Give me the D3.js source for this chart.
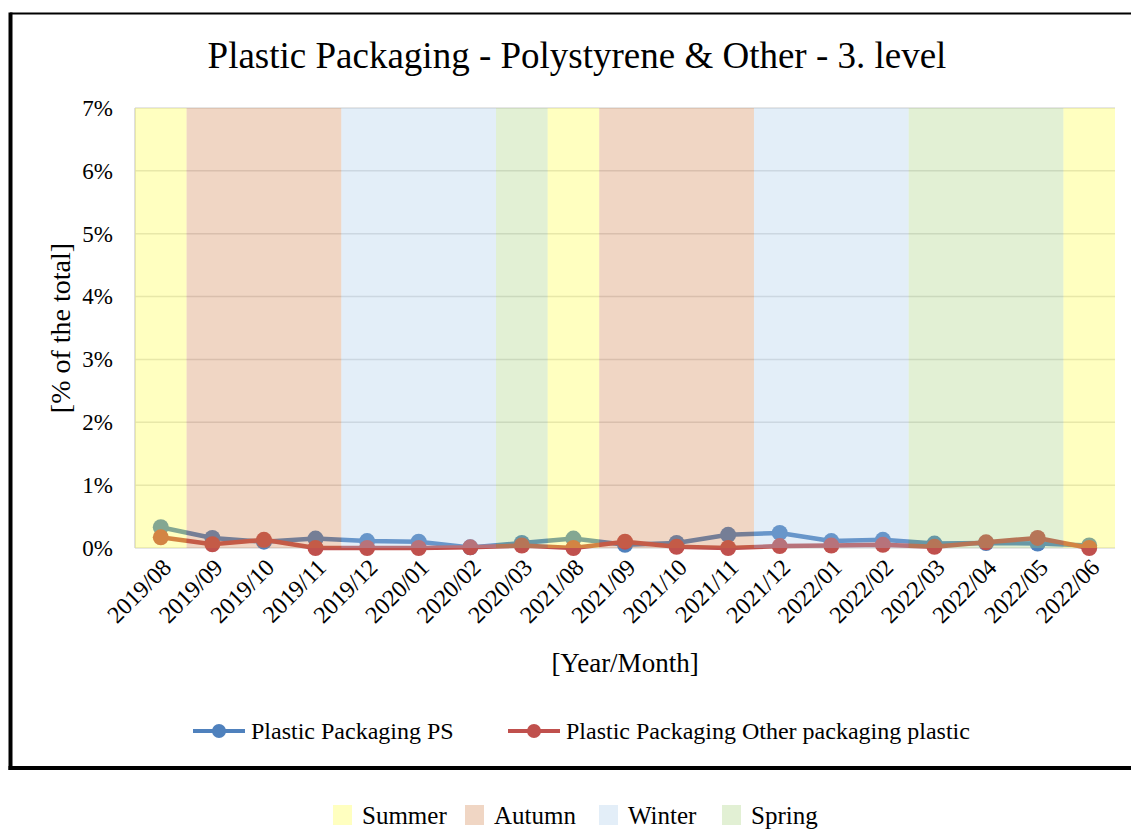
<!DOCTYPE html>
<html>
<head>
<meta charset="utf-8">
<script src="https://cdn.jsdelivr.net/npm/d3@7"></script>
<style>
  html, body { margin: 0; padding: 0; background: #fff; }
  svg { display: block; font-family: "Liberation Serif", "Times New Roman", serif; }
</style>
</head>
<body>
<svg id="chart" width="1131" height="829"></svg>
<script>
// Monthly sampling points
const months = ["2019/08","2019/09","2019/10","2019/11","2019/12","2020/01","2020/02","2020/03",
  "2021/08","2021/09","2021/10","2021/11","2021/12","2022/01","2022/02","2022/03","2022/04","2022/05","2022/06"];

// Share of the total waste, in percent
const psValues    = [0.33,0.16,0.10,0.15,0.11,0.10,0.01,0.08,0.15,0.05,0.08,0.21,0.24,0.11,0.13,0.07,0.08,0.07,0.04];
const otherValues = [0.17,0.06,0.13,0.00,0.00,0.00,0.01,0.04,0.00,0.10,0.02,0.00,0.03,0.04,0.05,0.02,0.09,0.16,0.00];

// Season of each month
const seasonOf = ["Summer","Autumn","Autumn","Autumn","Winter","Winter","Winter","Spring",
  "Summer","Autumn","Autumn","Autumn","Winter","Winter","Winter","Spring","Spring","Spring","Summer"];

const seasons = ["Summer","Autumn","Winter","Spring"];
const yTicks = [0,1,2,3,4,5,6,7];

const seriesNames = ["Plastic Packaging PS","Plastic Packaging Other packaging plastic"];

// Season tints: base colour laid over the plot at low opacity
const seasonBase = {Summer:"#ffff2d", Autumn:"#cd763a", Winter:"#a2c6e8", Spring:"#9ecd70"};
const seasonOpacity = 0.3;
const seasonSwatch = {Summer:"#ffffc0", Autumn:"#f0d6c4", Winter:"#e3eef8", Spring:"#e2f0d4"};
const seriesColors = ["#4f81bd","#c0504d"];

const svg = d3.select("#chart");
svg.append("rect").attr("width",1131).attr("height",829).attr("fill","#fff");

// Chart frame
const frame = svg.append("g");
frame.append("line").attr("x1",10).attr("x2",1131).attr("y1",13.5).attr("y2",13.5)
  .attr("stroke","#000").attr("stroke-width",2);
frame.append("line").attr("x1",10.5).attr("x2",10.5).attr("y1",12.5).attr("y2",770)
  .attr("stroke","#000").attr("stroke-width",4);
frame.append("line").attr("x1",8.5).attr("x2",1131).attr("y1",768).attr("y2",768)
  .attr("stroke","#000").attr("stroke-width",4);

const plot = {left:135, right:1115, top:108, bottom:548};

const x = d3.scaleBand().domain(months).range([plot.left, plot.right]).padding(0);
const y = d3.scaleLinear().domain([0,7]).range([plot.bottom, plot.top]);
const cx = d => x(d) + x.bandwidth()/2;

// Title
svg.append("text").attr("x",577).attr("y",68).attr("text-anchor","middle")
  .attr("font-size",37).attr("fill","#000")
  .text("Plastic Packaging - Polystyrene & Other - 3. level");

// Gridlines
svg.append("g").selectAll("line").data(yTicks).join("line")
  .attr("x1",plot.left).attr("x2",plot.right)
  .attr("y1",d=>y(d)).attr("y2",d=>y(d))
  .attr("stroke","#dedede").attr("stroke-width",1.5);
svg.append("line").attr("x1",plot.left).attr("x2",plot.left)
  .attr("y1",plot.top).attr("y2",plot.bottom).attr("stroke","#d4d4d4").attr("stroke-width",1.5);

// Series lines with markers
const series = [psValues, otherValues];
series.forEach((vals, i) => {
  const g = svg.append("g");
  const line = d3.line().x((d,j)=>cx(months[j])).y(d=>y(d));
  g.append("path").datum(vals).attr("d",line).attr("fill","none")
    .attr("stroke",seriesColors[i]).attr("stroke-width",4.5).attr("stroke-linejoin","round");
  g.selectAll("circle").data(vals).join("circle")
    .attr("cx",(d,j)=>cx(months[j])).attr("cy",d=>y(d)).attr("r",8)
    .attr("fill",seriesColors[i]);
});

// Season shading laid over the plot: one rectangle per run of equal seasons
const runs = [];
seasonOf.forEach((s,i) => {
  const last = runs[runs.length-1];
  if (last && last.season === s) last.end = months[i];
  else runs.push({season:s, start:months[i], end:months[i]});
});
svg.append("g").selectAll("rect").data(runs).join("rect")
  .attr("x",d=>x(d.start)).attr("width",d=>x(d.end)+x.bandwidth()-x(d.start))
  .attr("y",plot.top).attr("height",plot.bottom-plot.top)
  .attr("fill",d=>seasonBase[d.season]).attr("fill-opacity",seasonOpacity);

// Y axis
const yAxis = d3.axisLeft(y).tickValues(yTicks).tickFormat(d=>d+"%").tickSize(0).tickPadding(0);
const ya = svg.append("g").attr("transform",`translate(${plot.left-22},0)`).call(yAxis);
ya.select(".domain").remove();
ya.selectAll("text").attr("font-size",23).attr("font-family","Liberation Serif").attr("fill","#000");

// X axis
const xAxis = d3.axisBottom(x).tickSize(0).tickPadding(0);
const xa = svg.append("g").attr("transform",`translate(0,${plot.bottom})`).call(xAxis);
xa.select(".domain").remove();
xa.selectAll("text").attr("font-size",24).attr("font-family","Liberation Serif").attr("fill","#000")
  .attr("text-anchor","end").attr("dy",null).attr("y",null)
  .attr("transform","translate(8,17) rotate(-45)").attr("dominant-baseline","middle");

// Axis titles
svg.append("text").attr("transform",`translate(70,${(plot.top+plot.bottom)/2}) rotate(-90)`)
  .attr("text-anchor","middle").attr("font-size",28).text("[% of the total]");
svg.append("text").attr("x",625).attr("y",672).attr("text-anchor","middle")
  .attr("font-size",27).text("[Year/Month]");

// Series legend
const legendX = [193, 508];
seriesNames.forEach((name,i) => {
  const g = svg.append("g").attr("transform",`translate(${legendX[i]},731)`);
  g.append("line").attr("x1",0).attr("x2",52).attr("stroke",seriesColors[i]).attr("stroke-width",4);
  g.append("circle").attr("cx",26).attr("r",7).attr("fill",seriesColors[i]);
  g.append("text").attr("x",58).attr("y",8).attr("font-size",24).text(name);
});

// Season legend
const seasonLegendX = [333, 465, 599, 722];
seasons.forEach((s,i) => {
  const g = svg.append("g").attr("transform",`translate(${seasonLegendX[i]},805)`);
  g.append("rect").attr("width",19).attr("height",20).attr("fill",seasonSwatch[s]);
  g.append("text").attr("x",29).attr("y",19).attr("font-size",25).text(s);
});
</script>
</body>
</html>
